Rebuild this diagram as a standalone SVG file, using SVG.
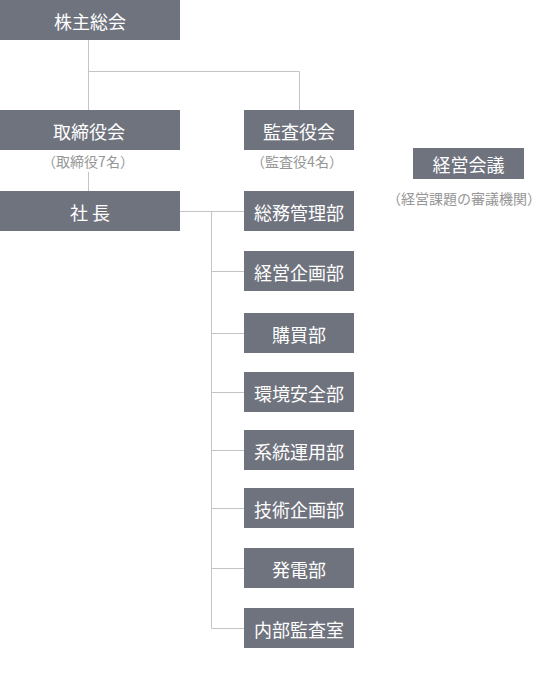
<svg xmlns="http://www.w3.org/2000/svg" width="542" height="700" viewBox="0 0 542 700">
<style>
.b{fill:#6f737e}
.t{font-family:"Noto Sans CJK JP","Noto Sans CJK SC",sans-serif;font-size:18px;fill:#ffffff;text-anchor:middle;dominant-baseline:central}
.n{font-family:"Noto Sans CJK JP","Noto Sans CJK SC",sans-serif;font-size:14px;fill:#969696;text-anchor:middle;dominant-baseline:central}
.c{fill:none;stroke:#c4c4c4;stroke-width:1}
</style>
<rect width="542" height="700" fill="#ffffff"/>
<g id="connectors">
<path class="c" d="M88.5 40V110M88.5 71.5H299.5V110"/>
<path class="c" d="M88.5 172V191"/>
<path class="c" d="M180 211.5H244M211.5 211.5V628.5H244"/>
<path class="c" d="M211.5 271.5H244M211.5 333.5H244M211.5 392.5H244M211.5 450.5H244M211.5 508.5H244M211.5 568.5H244"/>
</g>
<g id="n-shareholders"><rect class="b" x="0" y="0" width="180" height="40"/><text class="t" x="90" y="21">株主総会</text></g>
<g id="n-board"><rect class="b" x="0" y="110" width="180" height="40"/><text class="t" x="89" y="131">取締役会</text><text class="n" x="88" y="161">（取締役7名）</text></g>
<g id="n-audit"><rect class="b" x="244" y="110" width="110" height="40"/><text class="t" x="299" y="131">監査役会</text><text class="n" x="297" y="161">（監査役4名）</text></g>
<g id="n-mgmt"><rect class="b" x="413" y="148" width="111" height="31"/><text class="t" x="468.500" y="164">経営会議</text><text class="n" x="464" y="198">（経営課題の審議機関）</text></g>
<g id="n-president"><rect class="b" x="0" y="191" width="180" height="40"/><text class="t" x="90" y="212">社 長</text></g>
<g id="n-d1"><rect class="b" x="244" y="191" width="110" height="40"/><text class="t" x="299" y="212">総務管理部</text></g>
<g id="n-d2"><rect class="b" x="244" y="251" width="110" height="40"/><text class="t" x="299" y="272">経営企画部</text></g>
<g id="n-d3"><rect class="b" x="244" y="313" width="110" height="40"/><text class="t" x="299" y="334">購買部</text></g>
<g id="n-d4"><rect class="b" x="244" y="372" width="110" height="40"/><text class="t" x="299" y="393">環境安全部</text></g>
<g id="n-d5"><rect class="b" x="244" y="430" width="110" height="40"/><text class="t" x="299" y="451">系統運用部</text></g>
<g id="n-d6"><rect class="b" x="244" y="488" width="110" height="40"/><text class="t" x="299" y="509">技術企画部</text></g>
<g id="n-d7"><rect class="b" x="244" y="548" width="110" height="40"/><text class="t" x="299" y="569">発電部</text></g>
<g id="n-d8"><rect class="b" x="244" y="608" width="110" height="40"/><text class="t" x="299" y="629">内部監査室</text></g>
</svg>
